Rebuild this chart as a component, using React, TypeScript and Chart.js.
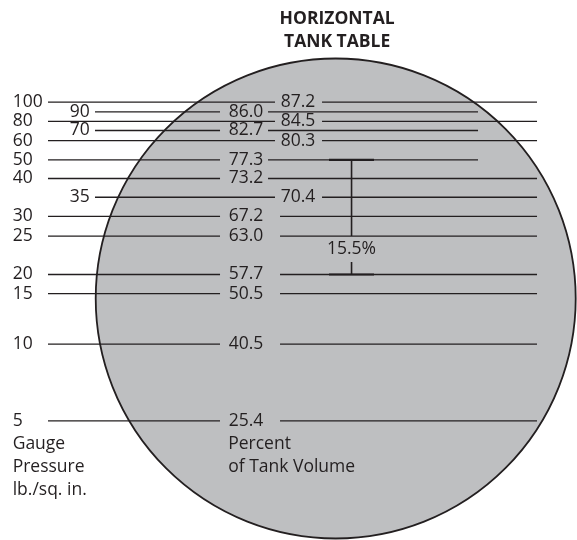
import React, { useEffect, useRef } from "react";
import { Chart, registerables } from "chart.js";

Chart.register(...registerables);

// ---- data ----
const pressures = [100, 90, 80, 70, 60, 50, 40, 35, 30, 25, 20, 15, 10, 5]; // gauge pressure, lb./sq. in.
const percents = ["87.2", "86.0", "84.5", "82.7", "80.3", "77.3", "73.2", "70.4", "67.2", "63.0", "57.7", "50.5", "40.5", "25.4"]; // % of tank volume
const levels = [90.9, 88.9, 86.9, 85.0, 82.9, 78.9, 75.0, 71.1, 67.1, 63.0, 55.0, 51.0, 40.5, 24.5]; // liquid height, % of diameter
const spanFromRow = 5; // 77.3
const spanToRow = 10; // 57.7
const spanLabel = "15.5%";
const titleLines = ["HORIZONTAL", "TANK TABLE"];
const pressureCaption = ["Gauge", "Pressure", "lb./sq. in."];
const percentCaption = ["Percent", "of Tank Volume"];

// ---- layout (x in tank-diameter units, 0..100 across the circle) ----
const STYLES: Record<string, { p: number; s1: [number, number]; t: number; s2: [number, number] }> = {
  A: { p: -17.3, s1: [-9.94, 37.35], t: 42.15, s2: [47.15, 91.94] },
  B: { p: -5.4, s1: [-0.15, 25.9], t: 31.3, s2: [35.9, 79.65] },
  C: { p: -17.3, s1: [-9.94, 25.9], t: 31.3, s2: [35.9, 79.65] },
  D: { p: -17.3, s1: [-9.94, 25.9], t: 31.3, s2: [35.9, 91.94] },
  E: { p: -5.4, s1: [-0.15, 37.35], t: 42.15, s2: [47.15, 91.94] },
  F: { p: -17.3, s1: [-9.94, 25.9], t: 31.3, s2: [38.4, 91.94] },
};
const ROW_STYLE = ["A", "B", "A", "B", "A", "C", "D", "E", "F", "F", "F", "F", "F", "F"];
const BAR_X = 53.3;
const CAP: [number, number] = [48.6, 57.98];
const FONT = "'Open Sans', 'DejaVu Sans', sans-serif";
const INK = "#231f20";

export default function App() {
  const ref = useRef<HTMLCanvasElement | null>(null);

  useEffect(() => {
    if (!ref.current) return;
    const datasets: any[] = [];
    const seg = (x0: number, x1: number, y0: number, y1: number, w = 1.3) =>
      datasets.push({
        data: [{ x: x0, y: y0 }, { x: x1, y: y1 }],
        showLine: true,
        borderColor: INK,
        borderWidth: w,
        pointRadius: 0,
      });
    levels.forEach((lv, i) => {
      const st = STYLES[ROW_STYLE[i]];
      seg(st.s1[0], st.s1[1], lv, lv);
      seg(st.s2[0], st.s2[1], lv, lv);
    });
    const top = levels[spanFromRow];
    const bot = levels[spanToRow];
    const labelLevel = (levels[spanToRow] + levels[spanToRow - 1]) / 2 + 1.3;
    seg(BAR_X, BAR_X, top, levels[spanToRow - 1], 1.6);
    seg(BAR_X, BAR_X, labelLevel - 2.7, bot, 1.6);
    seg(CAP[0], CAP[1], top, top, 2.2);
    seg(CAP[0], CAP[1], bot, bot, 2.2);

    const tank = {
      id: "tank",
      beforeDatasetsDraw(chart: any) {
        const { ctx, scales } = chart;
        const xs = scales.x, ys = scales.y;
        const cx = xs.getPixelForValue(50);
        const cy = ys.getPixelForValue(50);
        const r = Math.abs(ys.getPixelForValue(0) - ys.getPixelForValue(50));
        ctx.save();
        ctx.beginPath();
        ctx.arc(cx, cy, r, 0, Math.PI * 2);
        ctx.fillStyle = "#bebfc1";
        ctx.fill();
        ctx.lineWidth = 1.8;
        ctx.strokeStyle = INK;
        ctx.stroke();
        ctx.restore();
      },
      afterDatasetsDraw(chart: any) {
        const { ctx, scales } = chart;
        const xs = scales.x, ys = scales.y;
        ctx.save();
        ctx.fillStyle = INK;
        ctx.textBaseline = "middle";
        ctx.font = `17.5px ${FONT}`;
        levels.forEach((lv, i) => {
          const st = STYLES[ROW_STYLE[i]];
          const y = ys.getPixelForValue(lv);
          ctx.textAlign = "left";
          ctx.fillText(String(pressures[i]), xs.getPixelForValue(st.p), y);
          ctx.textAlign = "center";
          ctx.fillText(percents[i], xs.getPixelForValue(st.t), y);
        });
        ctx.textAlign = "center";
        ctx.fillText(spanLabel, xs.getPixelForValue(BAR_X), ys.getPixelForValue(labelLevel));
        ctx.textAlign = "left";
        pressureCaption.forEach((t, k) =>
          ctx.fillText(t, xs.getPixelForValue(-17.3), ys.getPixelForValue(19.7 - k * 4.85))
        );
        percentCaption.forEach((t, k) =>
          ctx.fillText(t, xs.getPixelForValue(27.6), ys.getPixelForValue(19.7 - k * 4.85))
        );
        ctx.textAlign = "center";
        ctx.font = `bold 17.5px ${FONT}`;
        titleLines.forEach((t, k) =>
          ctx.fillText(t, xs.getPixelForValue(50.3), ys.getPixelForValue(108.2 - k * 4.8))
        );
        ctx.restore();
      },
    };

    const chart = new Chart(ref.current, {
      type: "scatter",
      data: { datasets },
      options: {
        animation: false,
        responsive: false,
        layout: { padding: 0, autoPadding: false },
        plugins: { legend: { display: false }, tooltip: { enabled: false }, title: { display: false } },
        scales: {
          x: { type: "linear", display: false, min: -19.94, max: 100.27 },
          y: { type: "linear", display: false, min: -0.3125, max: 112.19 },
        },
      },
      plugins: [tank],
    });
    return () => chart.destroy();
  }, []);

  return (
    <div style={{ position: "absolute", left: 0, top: 0, width: 577, height: 540, background: "#fff" }}>
      <canvas ref={ref} width={577} height={540} style={{ display: "block" }} />
    </div>
  );
}
